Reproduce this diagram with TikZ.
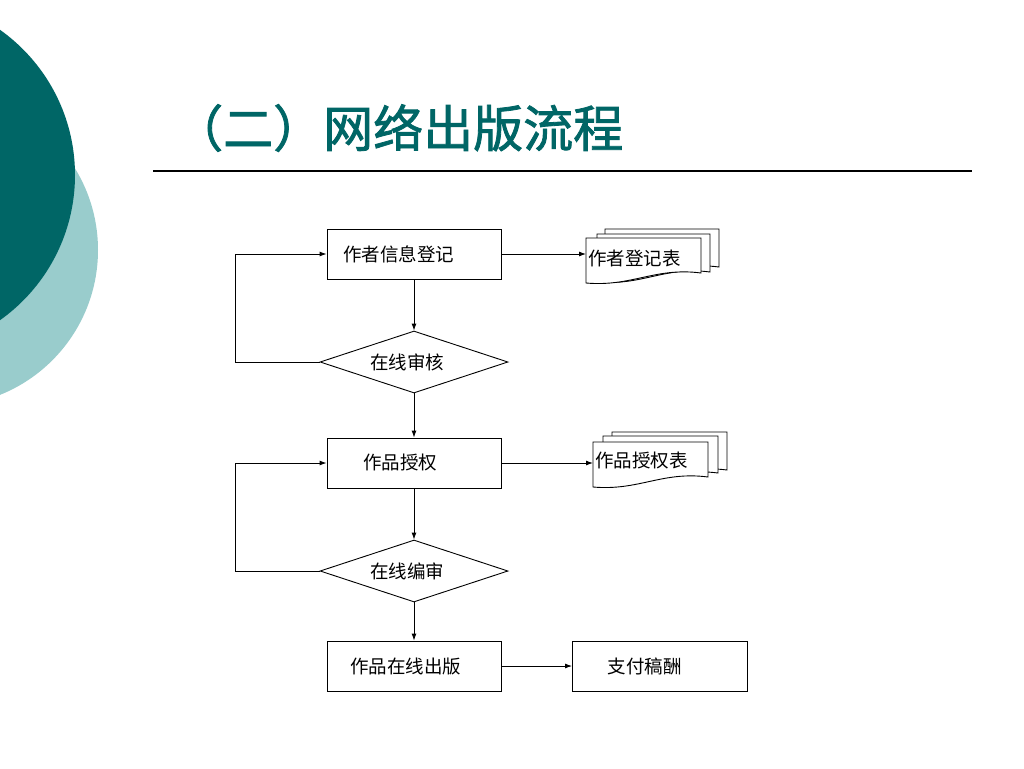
\documentclass[tikz,border=0pt]{standalone}
\usepackage{fontspec}
\newfontfamily\cjk{Noto Sans CJK SC}
\newfontfamily\cjktitle[FakeBold=1.6]{Noto Sans CJK SC}
\usetikzlibrary{shapes.geometric,arrows.meta}
\definecolor{tealdark}{RGB}{0,102,102}
\definecolor{teallight}{RGB}{153,204,204}
\tikzset{
  box/.style={draw, line width=0.9pt, minimum height=50pt, inner ysep=0pt, align=left,
    font=\cjk\fontsize{18.5}{20}\selectfont},
  dia/.style={draw, diamond, aspect=3.03, line width=0.9pt, minimum width=188pt, minimum height=62pt, inner sep=0pt,
    font=\cjk\fontsize{18.5}{20}\selectfont},
  arr/.style={line width=0.9pt, -{Latex[length=7pt,width=5pt]}},
  docline/.style={draw, fill=white, line width=0.9pt},
  doctext/.style={anchor=west, inner sep=0pt, font=\cjk\fontsize{18.5}{20}\selectfont},
}
\newcommand\docshape[5]{% L T R yR yL
  \path[docline] (#1,#2) -- (#3,#2) -- (#3,#4)
    .. controls ({#1+0.6*(#3-#1)},{#4-6}) and ({#1+0.4*(#3-#1)},{#5+4}) .. (#1,#5) -- cycle;}
\begin{document}
\begin{tikzpicture}[x=1pt,y=-1pt]
\useasboundingbox (0,0) rectangle (1024,768);
\clip (0,0) rectangle (1024,768);
\fill[white] (0,0) rectangle (1024,768);
% decorative circles
\fill[teallight] (-58,250) circle[radius=156];
\fill[tealdark] (-103,175) circle[radius=178];
% title
\node[anchor=west, inner sep=0pt, text=tealdark, font=\cjktitle\fontsize{50}{56}\selectfont] (title) at (173,128) {（二）网络出版流程};
\coordinate (ruleL) at (153,171);
\coordinate (ruleR) at (972,171);
\draw[line width=1.3pt] (ruleL) -- (ruleR);
% boxes
\node[box, inner xsep=16pt, text width=142pt] (b1) at (414,254) {作者信息登记};
\node[dia] (d1) at (414,362) {\hspace*{-14pt}在线审核};
\node[box, inner xsep=36pt, text width=102pt] (b2) at (414,463) {作品授权};
\node[dia] (d2) at (414,571) {\hspace*{-14pt}在线编审};
\node[box, inner xsep=23pt, text width=128pt] (b3) at (414,666) {作品在线出版};
\node[box, inner xsep=35pt, text width=105pt] (b4) at (660,666) {支付稿酬};
% documents
\docshape{605}{229}{719}{267}{277}
\docshape{597}{234}{710}{272}{282}
\docshape{586}{238}{701}{273}{283}
\coordinate (doc1) at (586,254);
\node[doctext] (t1) at (588,258) {作者登记表};
\docshape{612}{432}{727}{470}{480}
\docshape{603}{436}{718}{473}{483}
\docshape{593}{442}{708}{477}{487}
\coordinate (doc2) at (593,463);
\node[doctext] (t2) at (595,461) {作品授权表};
% connectors
\draw[arr] (b1.south) -- (d1.north);
\draw[arr] (d1.south) -- (b2.north);
\draw[arr] (b2.south) -- (d2.north);
\draw[arr] (d2.south) -- (b3.north);
\draw[arr] (d1.west) -- ++(-84,0) |- (b1.west);
\draw[arr] (d2.west) -- ++(-84,0) |- (b2.west);
\draw[arr] (b1.east) -- (doc1);
\draw[arr] (b2.east) -- (doc2);
\draw[arr] (b3.east) -- (b4.west);
\end{tikzpicture}
\end{document}
